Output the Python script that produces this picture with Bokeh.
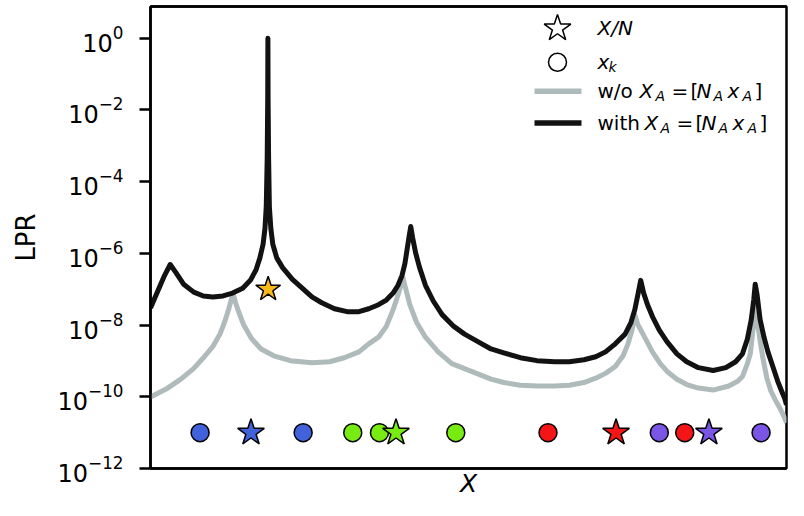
from bokeh.plotting import figure
from bokeh.models import Range1d, LinearScale, FixedTicker, Label, LinearAxis
from bokeh.embed import file_html
from bokeh.resources import INLINE

# ---------------- data ----------------
# x is the position along the horizontal axis (0 = left edge, 1 = right edge)
black_x = [0.000, 0.012, 0.022, 0.031, 0.040, 0.052, 0.068, 0.083, 0.098, 0.114,
           0.129, 0.145, 0.157, 0.166, 0.172, 0.177, 0.180, 0.182, 0.1835, 0.1843,
           0.1846, 0.1849, 0.1857, 0.1869, 0.1892, 0.1923, 0.1985, 0.2077, 0.2231, 0.2385,
           0.2538, 0.2692, 0.2892, 0.3092, 0.3277, 0.3431, 0.3585, 0.3708, 0.3815, 0.3892,
           0.3954, 0.4000, 0.4031, 0.4062, 0.4092, 0.4123, 0.4169, 0.4231, 0.4323, 0.4446,
           0.4585, 0.4769, 0.4938, 0.5154, 0.5354, 0.5554, 0.5815, 0.6077, 0.6354, 0.6585,
           0.6815, 0.7000, 0.7154, 0.7308, 0.7462, 0.7554, 0.7615, 0.7662, 0.7708, 0.7754,
           0.7815, 0.7892, 0.8000, 0.8123, 0.8277, 0.8431, 0.8615, 0.8846, 0.9046, 0.9200,
           0.9308, 0.9385, 0.9446, 0.9485, 0.9508, 0.9538, 0.9585, 0.9646, 0.9708, 0.9785,
           0.9862, 0.9923, 0.9969, 1.0000]
black_lpr = [3.0e-8, 9.4e-8, 2.4e-7, 4.9e-7, 2.9e-7, 1.38e-7, 8.3e-8, 6.5e-8, 6.1e-8, 6.5e-8,
             7.8e-8, 1.07e-7, 1.77e-7, 3.5e-7, 7.5e-7, 1.8e-6, 5.0e-6, 2.0e-5, 4.6e-4, 2.0e-2,
             1.0, 2.0e-2, 4.6e-4, 2.0e-5, 5.0e-6, 1.8e-6, 7.5e-7, 4.0e-7, 1.89e-7, 1.07e-7,
             6.1e-8, 4.2e-8, 2.86e-8, 2.37e-8, 2.37e-8, 2.86e-8, 3.7e-8, 5.0e-8, 7.8e-8, 1.29e-7,
             2.4e-7, 5.2e-7, 1.17e-6, 2.65e-6, 5.6e-6, 2.65e-6, 1.03e-6, 4.0e-7, 1.29e-7, 4.7e-8,
             1.96e-8, 9.2e-9, 5.6e-9, 3.4e-9, 2.16e-9, 1.68e-9, 1.23e-9, 1.02e-9, 9.5e-10, 9.5e-10,
             1.08e-9, 1.31e-9, 1.79e-9, 3.0e-9, 5.6e-9, 1.18e-8, 2.7e-8, 6.9e-8, 1.77e-7, 7.8e-8,
             3.7e-8, 1.73e-8, 7.2e-9, 3.4e-9, 1.58e-9, 9.5e-10, 6.5e-10, 5.4e-10, 6.5e-10, 9.5e-10,
             1.58e-9, 4.1e-9, 1.43e-8, 5.0e-8, 1.38e-7, 6.9e-8, 1.43e-8, 4.6e-9, 1.79e-9, 7.0e-10,
             2.7e-10, 1.45e-10, 9.3e-11, 6.0e-11]

gray_x = [0.000, 0.0246, 0.0477, 0.0677, 0.0846, 0.0985, 0.1092, 0.1169, 0.1231, 0.1277,
          0.1300, 0.1338, 0.1385, 0.1462, 0.1585, 0.1738, 0.1938, 0.2200, 0.2538, 0.2815,
          0.3046, 0.3277, 0.3431, 0.3585, 0.3708, 0.3815, 0.3892, 0.3938, 0.3969, 0.4015,
          0.4077, 0.4185, 0.4323, 0.4523, 0.4738, 0.5046, 0.5354, 0.5554, 0.5815, 0.6077,
          0.6354, 0.6585, 0.6815, 0.7000, 0.7154, 0.7308, 0.7431, 0.7508, 0.7569, 0.7615,
          0.7662, 0.7769, 0.7892, 0.8015, 0.8123, 0.8277, 0.8431, 0.8615, 0.8846, 0.9092,
          0.9231, 0.9308, 0.9385, 0.9431, 0.9477, 0.9508, 0.9538, 0.9585, 0.9631, 0.9692,
          0.9754, 0.9831, 0.9908, 0.9969, 1.0000]
gray_lpr = [9.9e-11, 1.64e-10, 3.1e-10, 6.1e-10, 1.31e-9, 2.6e-9, 5.6e-9, 1.26e-8, 2.86e-8, 5.7e-8,
            7.3e-8, 4.2e-8, 2.37e-8, 1.04e-8, 4.3e-9, 2.16e-9, 1.39e-9, 1.02e-9, 8.9e-10, 9.5e-10,
            1.23e-9, 1.79e-9, 3.0e-9, 4.6e-9, 9.2e-9, 2.7e-8, 6.9e-8, 1.29e-7, 2.1e-7, 1.0e-7,
            3.7e-8, 1.18e-8, 4.6e-9, 1.79e-9, 8.4e-10, 5.1e-10, 3.1e-10, 2.5e-10, 2.1e-10, 2.0e-10,
            2.0e-10, 2.1e-10, 2.5e-10, 3.3e-10, 4.5e-10, 7.0e-10, 1.39e-9, 3.0e-9, 7.2e-9, 1.96e-8,
            1.04e-8, 4.6e-9, 1.79e-9, 8.4e-10, 5.1e-10, 3.1e-10, 2.2e-10, 1.75e-10, 1.54e-10, 2.0e-10,
            2.7e-10, 3.7e-10, 8.4e-10, 1.58e-9, 8.6e-9, 3.0e-8, 1.43e-8, 3.6e-9, 1.15e-9, 3.3e-10,
            1.45e-10, 7.7e-11, 4.4e-11, 2.6e-11, 1.9e-11]

# x_k points (circles) and X/N points (stars), grouped by colour
xk_x = [0.078, 0.240, 0.318, 0.360, 0.480, 0.625, 0.800, 0.840, 0.960]
xk_group = ["blue", "blue", "green", "green", "green", "red", "purple", "red", "purple"]
xn_x = [0.158, 0.386, 0.732, 0.878]
xn_group = ["blue", "green", "red", "purple"]
marker_lpr = 1e-11
gold_x = [0.185]
gold_lpr = [1e-7]

y_ticks = [1e-12, 1e-10, 1e-8, 1e-6, 1e-4, 1e-2, 1e0]

# ---------------- styles ----------------
COLORS = {"blue": "#4262dc", "green": "#78ec12", "red": "#f41616",
          "purple": "#7a55e6", "gold": "#f9b918"}
BLACK = "#121212"
GRAY = "#afbaba"
FONT = "DejaVu Sans"

W, H = 788, 500
BL, BR, BT, BB = 150, 2, 6, 30
FW, FH = W - BL - BR, H - BT - BB  # frame size in px

p = figure(width=W, height=H, y_axis_type="log",
           x_range=Range1d(0, 1), y_range=Range1d(1e-12, 7.7),
           output_backend="svg", toolbar_location=None,
           min_border_left=BL, min_border_right=BR, min_border_top=BT, min_border_bottom=BB)

p.grid.visible = False
p.outline_line_color = "black"
p.outline_line_width = 2.5
p.outline_line_alpha = 1.0
p.background_fill_color = "white"
p.border_fill_color = "white"

# y axis
ya = p.yaxis[0]
ya.ticker = FixedTicker(ticks=y_ticks, minor_ticks=[])
ya.axis_line_width = 2.5
ya.major_tick_line_width = 2.5
ya.major_tick_out = 11
ya.major_tick_in = 0
ya.minor_tick_line_color = None
ya.major_label_text_font = FONT
ya.major_label_text_font_size = "24px"
ya.major_label_text_color = "black"
ya.major_label_standoff = 16
ya.axis_label = "LPR"
ya.axis_label_text_font = FONT
ya.axis_label_text_font_size = "26px"
ya.axis_label_text_font_style = "normal"
ya.axis_label_text_color = "black"
ya.axis_label_standoff = 14

# x axis: no ticks, italic X label
xa = p.xaxis[0]
xa.ticker = FixedTicker(ticks=[])
xa.axis_line_width = 2.5
xa.major_tick_line_color = None
xa.minor_tick_line_color = None
xa.major_tick_out = 0
xa.major_label_text_font_size = "0px"
xa.major_label_standoff = 0
xa.axis_label = "X"
xa.axis_label_text_font = FONT
xa.axis_label_text_font_size = "25px"
xa.axis_label_text_font_style = "italic"
xa.axis_label_text_color = "black"
xa.axis_label_standoff = 0

# top spine (plain line, no ticks or labels)
top = LinearAxis(ticker=FixedTicker(ticks=[]), axis_line_width=2.5, axis_line_color="black",
                 major_tick_line_color=None, minor_tick_line_color=None,
                 major_tick_out=0, major_label_text_font_size="0px", major_label_standoff=0)
p.add_layout(top, "above")

# curves
p.line(gray_x, gray_lpr, line_color=GRAY, line_width=5, line_join="round")
p.line(black_x, black_lpr, line_color=BLACK, line_width=5, line_join="round")

# markers
p.scatter(xk_x, [marker_lpr] * len(xk_x), marker="circle", size=18,
          fill_color=[COLORS[g] for g in xk_group], line_color="black", line_width=1.5)
p.scatter(xn_x, [marker_lpr] * len(xn_x), marker="star", size=28,
          fill_color=[COLORS[g] for g in xn_group], line_color="black", line_width=1.5)
p.scatter(gold_x, gold_lpr, marker="star", size=26,
          fill_color=COLORS["gold"], line_color="black", line_width=1.5)

# ---------------- legend (pixel layout inside the frame) ----------------
p.extra_x_ranges = {"px": Range1d(0, FW)}
p.extra_y_ranges = {"px": Range1d(FH, 0)}
p.extra_x_scales = {"px": LinearScale()}
p.extra_y_scales = {"px": LinearScale()}

KX = FW - 229              # key centre
KL, KR = KX - 23, KX + 24  # key line ends
TX = FW - 189              # text start
ROWS = [22, 56, 85, 117]
SUB = 5

p.scatter([KX], [ROWS[0]], x_range_name="px", y_range_name="px", marker="star", size=28,
          fill_color="white", line_color="black", line_width=1.5)
p.scatter([KX], [ROWS[1]], x_range_name="px", y_range_name="px", marker="circle", size=18,
          fill_color="white", line_color="black", line_width=1.5)
p.line([KL, KR], [ROWS[2], ROWS[2]], x_range_name="px", y_range_name="px",
       line_color=GRAY, line_width=5.5)
p.line([KL, KR], [ROWS[3], ROWS[3]], x_range_name="px", y_range_name="px",
       line_color=BLACK, line_width=5.5)


def piece(text, dx, row, italic=False, sub=False):
    p.add_layout(Label(x=TX + dx, y=ROWS[row] + (SUB if sub else 0),
                       x_range_name="px", y_range_name="px", text=text,
                       text_font=FONT, text_font_size="14px" if sub else "20px",
                       text_font_style="italic" if italic else "normal",
                       text_color="black", text_baseline="middle", text_align="left"))


piece("X/N", 0, 0, italic=True)
piece("x", 0, 1, italic=True)
piece("k", 11, 1, italic=True, sub=True)

for row, word, shift in [(2, "w/o", 0), (3, "with", 5)]:
    piece(word, 0, row)
    piece("X", 42 + shift, row, italic=True)
    piece("A", 58 + shift, row, italic=True, sub=True)
    piece("=", 74 + shift, row)
    piece("[", 93 + shift, row)
    piece("N", 99 + shift, row, italic=True)
    piece("A", 116 + shift, row, italic=True, sub=True)
    piece("x", 130 + shift, row, italic=True)
    piece("A", 145 + shift, row, italic=True, sub=True)
    piece("]", 157 + shift, row)

open("out.html", "w").write(file_html(p, INLINE))
